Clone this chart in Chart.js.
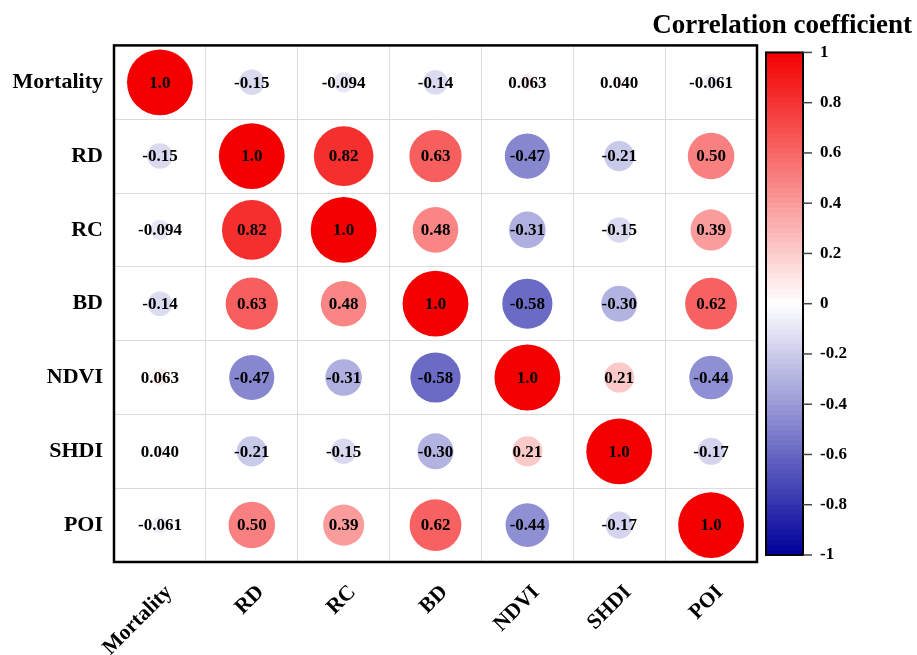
<!DOCTYPE html>
<html><head><meta charset="utf-8">
<script src="https://cdn.jsdelivr.net/npm/chart.js@4"></script>
<style>html,body{margin:0;padding:0;background:#fff}</style>
</head><body>
<canvas id="c" width="917" height="655"></canvas>
<script>
const variables = ['Mortality', 'RD', 'RC', 'BD', 'NDVI', 'SHDI', 'POI'];
const rowMortality = [1.0, -0.15, -0.094, -0.14, 0.063, 0.040, -0.061];
const rowRD        = [-0.15, 1.0, 0.82, 0.63, -0.47, -0.21, 0.50];
const rowRC        = [-0.094, 0.82, 1.0, 0.48, -0.31, -0.15, 0.39];
const rowBD        = [-0.14, 0.63, 0.48, 1.0, -0.58, -0.30, 0.62];
const rowNDVI      = [0.063, -0.47, -0.31, -0.58, 1.0, 0.21, -0.44];
const rowSHDI      = [0.040, -0.21, -0.15, -0.30, 0.21, 1.0, -0.17];
const rowPOI       = [-0.061, 0.50, 0.39, 0.62, -0.44, -0.17, 1.0];
const colorbarTicks = [1, 0.8, 0.6, 0.4, 0.2, 0, -0.2, -0.4, -0.6, -0.8, -1];
const colorbarTickLabels = ['1', '0.8', '0.6', '0.4', '0.2', '0', '-0.2', '-0.4', '-0.6', '-0.8', '-1'];
const colorbarTitle = 'Correlation coefficient';

const rows = [rowMortality, rowRD, rowRC, rowBD, rowNDVI, rowSHDI, rowPOI];
const SERIF = '"Liberation Serif", "Times New Roman", serif';

function corrColor(v) {
  if (v >= 0) {
    const t = Math.min(v, 1);
    return `rgb(${Math.round(255 - t * 12)},${Math.round(255 * (1 - t))},${Math.round(255 * (1 - t))})`;
  }
  const t = Math.min(-v, 1);
  return `rgb(${Math.round(255 * (1 - t))},${Math.round(255 * (1 - t))},${Math.round(255 - t * 100)})`;
}

const points = [];
rows.forEach((row, i) => row.forEach((v, j) => points.push({ x: variables[j], y: variables[i], v })));

const framePlugin = {
  id: 'frame',
  afterDatasetsDraw(chart) {
    const { ctx, chartArea: a } = chart;
    ctx.save();
    ctx.font = 'bold 17px ' + SERIF;
    ctx.fillStyle = '#000';
    ctx.textAlign = 'center';
    ctx.textBaseline = 'middle';
    const meta = chart.getDatasetMeta(0);
    meta.data.forEach((el, k) => {
      const v = points[k].v;
      ctx.fillText(Math.abs(v) === 1 ? v.toFixed(1) : v.toPrecision(2), el.x, el.y + 1);
    });
    ctx.lineWidth = 2.5;
    ctx.strokeStyle = '#000';
    ctx.strokeRect(a.left, a.top, a.right - a.left, a.bottom - a.top);
    ctx.restore();
  },
  afterDraw(chart) {
    const { ctx, chartArea: a } = chart;
    const s = chart.scales.cb;
    const x0 = a.right + 9, x1 = a.right + 46;
    const yTop = s.getPixelForValue(1), yBot = s.getPixelForValue(-1);
    const n = 100;
    ctx.save();
    for (let k = 0; k < n; k++) {
      const v0 = 1 - 2 * k / n, v1 = 1 - 2 * (k + 1) / n;
      const p0 = s.getPixelForValue(v0), p1 = s.getPixelForValue(v1);
      ctx.fillStyle = corrColor((v0 + v1) / 2);
      ctx.fillRect(x0, p0, x1 - x0, p1 - p0 + 0.5);
    }
    ctx.lineWidth = 2;
    ctx.strokeStyle = '#000';
    ctx.strokeRect(x0, yTop, x1 - x0, yBot - yTop);
    ctx.strokeStyle = '#444';
    ctx.lineWidth = 1.5;
    colorbarTicks.forEach(v => {
      const y = s.getPixelForValue(v);
      ctx.beginPath();
      ctx.moveTo(x1, y);
      ctx.lineTo(x1 + 9, y);
      ctx.stroke();
    });
    ctx.restore();
  }
};

new Chart(document.getElementById('c'), {
  type: 'scatter',
  data: {
    datasets: [{
      data: points,
      pointBackgroundColor: c => (c.raw ? corrColor(c.raw.v) : '#fff'),
      pointBorderWidth: 0,
      pointRadius: c => {
        const a = c.chart.chartArea;
        if (!a || !c.raw) return 0;
        const cell = Math.min((a.right - a.left), (a.bottom - a.top)) / variables.length;
        return cell * 0.446 * Math.sqrt(Math.abs(c.raw.v));
      },
      showLine: false,
      clip: false
    }]
  },
  options: {
    responsive: false,
    animation: false,
    events: [],
    layout: { autoPadding: false, padding: { left: 0, right: 5, top: 0, bottom: 0 } },
    plugins: {
      legend: { display: false },
      tooltip: { enabled: false },
      title: {
        display: true,
        text: colorbarTitle,
        align: 'end',
        color: '#000',
        font: { family: SERIF, size: 27, weight: 'bold' },
        padding: { top: 10, bottom: 3 }
      }
    },
    scales: {
      x: {
        type: 'category',
        labels: variables,
        offset: true,
        grid: { offset: true, color: '#dcdcdc', lineWidth: 1, drawTicks: false },
        border: { display: false },
        ticks: {
          color: '#000',
          font: { family: SERIF, size: 21.5, weight: 'bold' },
          maxRotation: 45, minRotation: 45,
          padding: 18,
          labelOffset: 9
        },
        afterFit: s => { s.height = 93; }
      },
      y: {
        type: 'category',
        labels: variables,
        offset: true,
        grid: { offset: true, color: '#dcdcdc', lineWidth: 1, drawTicks: false },
        border: { display: false },
        ticks: {
          color: '#000',
          font: { family: SERIF, size: 22, weight: 'bold' },
          padding: 11
        },
        afterFit: s => { s.width = 114; s.paddingTop = 0; s.paddingBottom = 0; }
      },
      cb: {
        type: 'linear',
        position: 'right',
        min: -1.028, max: 1.028,
        grid: { display: false, drawTicks: false },
        border: { display: false },
        afterBuildTicks: s => { s.ticks = colorbarTicks.map(v => ({ value: v })); },
        ticks: {
          color: '#000',
          font: { family: SERIF, size: 17, weight: 'bold' },
          padding: 63,
          callback: (val, idx) => colorbarTickLabels[idx]
        },
        afterFit: s => { s.width = 155; s.paddingTop = 0; s.paddingBottom = 0; }
      }
    }
  },
  plugins: [framePlugin]
});
</script>
</body></html>
